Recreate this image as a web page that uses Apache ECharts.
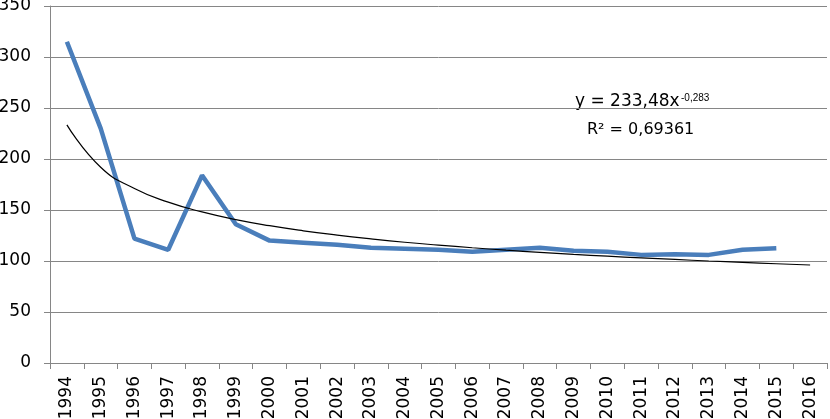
<!DOCTYPE html>
<html>
<head>
<meta charset="utf-8">
<script src="https://cdn.jsdelivr.net/npm/echarts@6/dist/echarts.min.js"></script>
<style>html,body{margin:0;padding:0;background:#fff;}#c{width:830px;height:419px;}</style>
</head>
<body>
<div id="c"></div>
<script>
const years = ['1994','1995','1996','1997','1998','1999','2000','2001','2002','2003','2004','2005','2006','2007','2008','2009','2010','2011','2012','2013','2014','2015','2016'];
const values = [315, 230, 122, 111, 184, 136, 120, 118, 116, 113, 112, 111, 109, 111, 113, 110, 109, 106, 106.5, 106, 111, 112.5];
const trend = [233.5, 191.9, 171.1, 157.7, 148.1, 140.6, 134.6, 129.6, 125.4, 121.7, 118.4, 115.6, 113.0, 110.6, 108.5, 106.5, 104.7, 103.0, 101.5, 100.0, 98.7, 97.3, 96.1];
const yTicks = [0, 350, 50];
const eqMain = 'y = 233,48x';
const eqExp = '-0,283';
const eqR2 = 'R² = 0,69361';

const chart = echarts.init(document.getElementById('c'), null, {renderer: 'canvas'});
const FONT = 'DejaVu Sans';
chart.setOption({
  animation: false,
  backgroundColor: '#fff',
  grid: {left: 50, right: 3, top: 6, bottom: 56, containLabel: false, outerBoundsMode: 'none'},
  xAxis: {
    type: 'category',
    data: years,
    boundaryGap: true,
    axisLine: {lineStyle: {color: '#868686', width: 1}},
    axisTick: {show: true, length: 6, interval: 0, lineStyle: {color: '#868686'}},
    axisLabel: {interval: 0, rotate: 90, margin: 13, fontFamily: FONT, fontSize: 17, color: '#000'},
    splitLine: {show: false}
  },
  yAxis: {
    type: 'value',
    min: yTicks[0], max: yTicks[1], interval: yTicks[2],
    axisLine: {show: true, lineStyle: {color: '#868686', width: 1}},
    axisTick: {show: true, length: 6, lineStyle: {color: '#868686'}},
    axisLabel: {margin: 19, fontFamily: FONT, fontSize: 17, color: '#000'},
    splitLine: {show: true, lineStyle: {color: '#868686', width: 1}}
  },
  series: [
    {
      type: 'line', data: values, showSymbol: false, symbol: 'none',
      lineStyle: {color: '#4A7EBB', width: 4.5}, z: 3
    },
    {
      type: 'line', data: trend, showSymbol: false, symbol: 'none', smooth: true,
      lineStyle: {color: '#000', width: 1.2}, z: 4
    }
  ],
  graphic: [
    {type: 'text', x: 575, y: 102, style: {text: eqMain, font: '17px "DejaVu Sans"', fill: '#000', align: 'left', verticalAlign: 'middle'}},
    {type: 'text', x: 681, y: 98.5, style: {text: eqExp, font: '10px "Liberation Sans"', fill: '#000', align: 'left', verticalAlign: 'middle'}},
    {type: 'text', x: 587, y: 129.5, style: {text: eqR2, font: '16px "DejaVu Sans"', fill: '#000', align: 'left', verticalAlign: 'middle'}}
  ]
});
</script>
</body>
</html>
